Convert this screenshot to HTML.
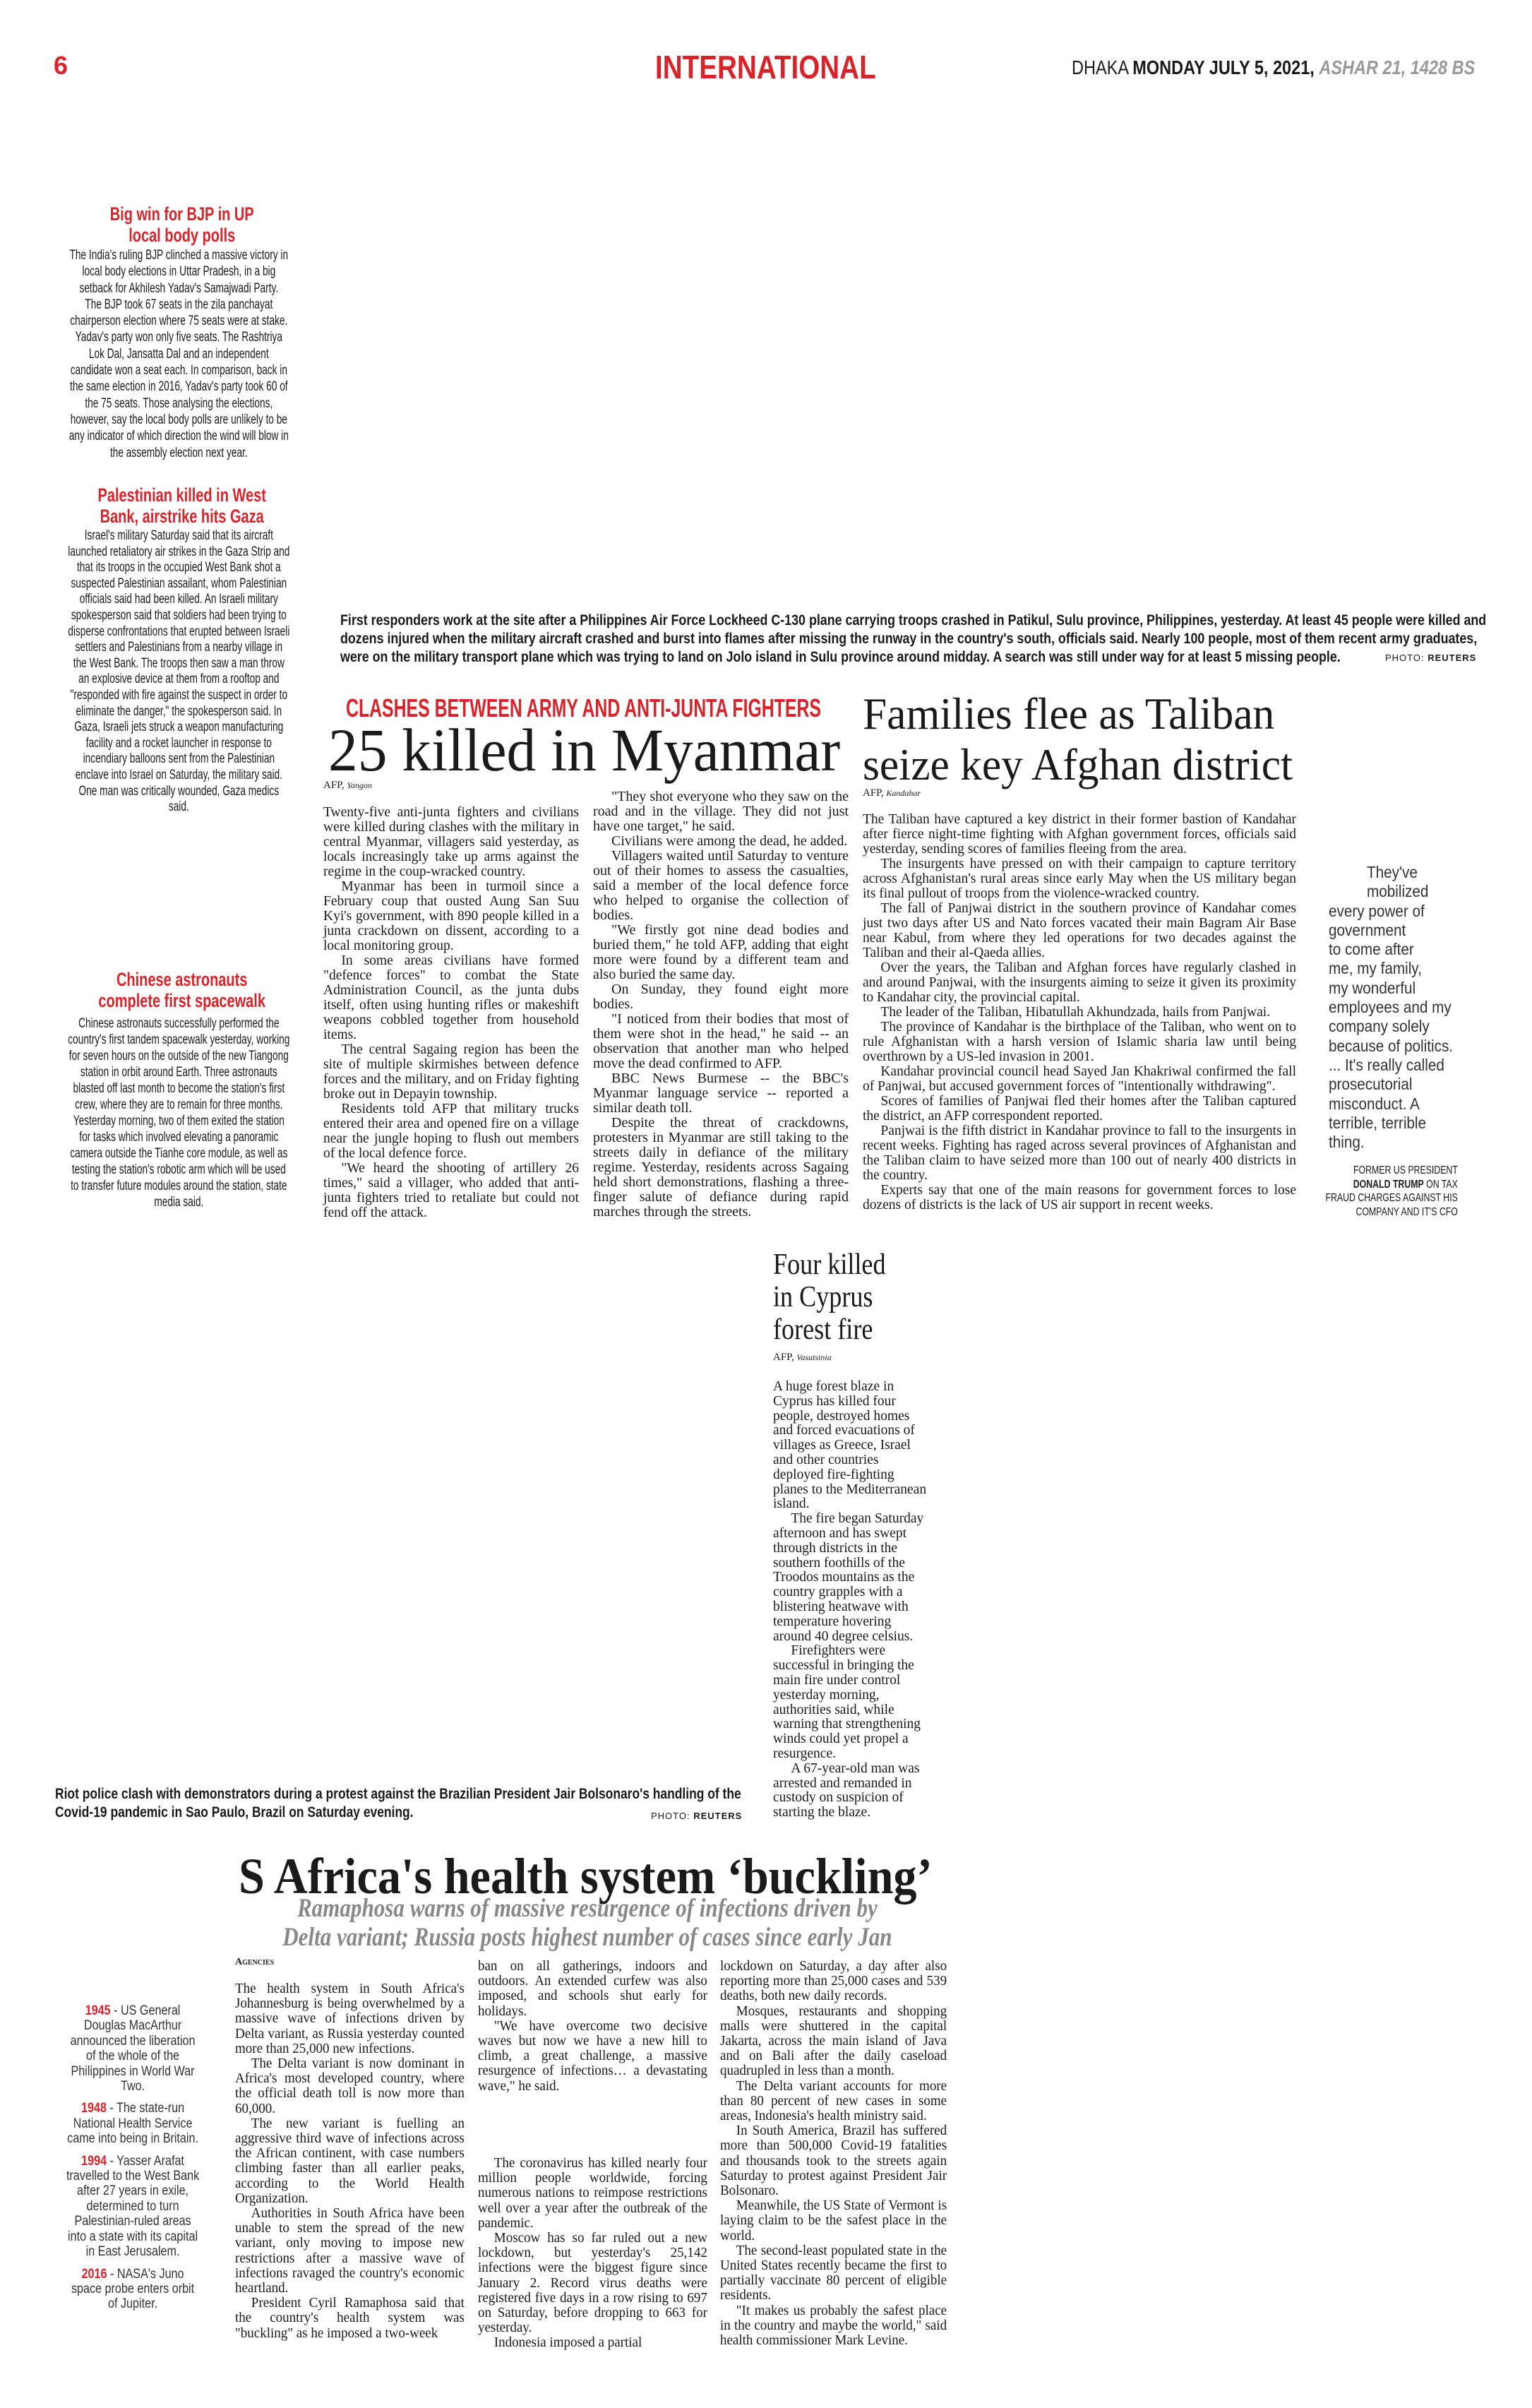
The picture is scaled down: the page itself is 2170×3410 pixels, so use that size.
<!DOCTYPE html>
<html><head><meta charset="utf-8">
<style>
html,body{margin:0;padding:0;background:#fff}
body{width:2170px;height:3410px;position:relative;overflow:hidden;color:#1a1a1a}
.a{position:absolute}
.s{transform-origin:0 0}
.sn{font-family:"Liberation Sans",sans-serif}
.sf{font-family:"Liberation Serif",serif}
.red{color:#d8232a}
.side{font-family:"Liberation Sans",sans-serif;font-size:19px;line-height:22px;text-align:center;transform:scaleX(.72);transform-origin:0 0;width:437px}
.sideh{font-family:"Liberation Sans",sans-serif;font-weight:bold;color:#d8232a;font-size:27px;line-height:30px;text-align:center;transform:scaleX(.74);transform-origin:0 0;width:437px}
.body{font-family:"Liberation Serif",serif;font-size:19.5px;line-height:21px;text-align:justify;transform-origin:0 0}
.body p{margin:0;text-indent:1.3em}
.body p.n{text-indent:0}
.sa{font-family:"Liberation Serif",serif;font-size:20px;line-height:21.2px;text-align:justify;transform:scaleX(.95);transform-origin:0 0}
.sa p{margin:0;text-indent:1.2em}
.sa p.n{text-indent:0}
.cap{font-family:"Liberation Sans",sans-serif;font-weight:bold;font-size:21px;line-height:26px;transform:scaleX(.85);transform-origin:0 0}
.cred{font-family:"Liberation Sans",sans-serif;font-size:13px;letter-spacing:1px}
.dt{font-family:"Liberation Sans",sans-serif;font-size:19px;line-height:21.4px;text-align:center;color:#333;transform:scaleX(.85);transform-origin:0 0;width:226px}
.dt b{color:#d8232a}
.dt p{margin:0 0 10px}
</style></head><body>

<div class="a sn red" style="left:76px;top:72px;font-size:36px;font-weight:bold">6</div>
<div class="a sn red s" style="left:928px;top:68px;font-size:46px;font-weight:bold;transform:scaleX(.84);white-space:nowrap">INTERNATIONAL</div>
<div class="a sn s" style="left:1518px;top:80px;font-size:28px;white-space:nowrap;transform:scaleX(.84)">DHAKA <b>MONDAY JULY 5, 2021,</b> <b style="color:#999;font-style:italic">ASHAR 21, 1428 BS</b></div>

<!-- left sidebar -->
<div class="a sideh" style="left:96px;top:288px">Big win for BJP in UP<br>local body polls</div>
<div class="a side" style="left:96px;top:350px;line-height:23.3px">The India's ruling BJP clinched a massive victory in local body elections in Uttar Pradesh, in a big setback for Akhilesh Yadav's Samajwadi Party.<br>The BJP took 67 seats in the zila panchayat chairperson election where 75 seats were at stake. Yadav's party won only five seats. The Rashtriya Lok Dal, Jansatta Dal and an independent candidate won a seat each. In comparison, back in the same election in 2016, Yadav's party took 60 of the 75 seats. Those analysing the elections, however, say the local body polls are unlikely to be any indicator of which direction the wind will blow in the assembly election next year.</div>

<div class="a sideh" style="left:96px;top:686px">Palestinian killed in West<br>Bank, airstrike hits Gaza</div>
<div class="a side" style="left:96px;top:748px;line-height:22.6px">Israel's military Saturday said that its aircraft launched retaliatory air strikes in the Gaza Strip and that its troops in the occupied West Bank shot a suspected Palestinian assailant, whom Palestinian officials said had been killed. An Israeli military spokesperson said that soldiers had been trying to disperse confrontations that erupted between Israeli settlers and Palestinians from a nearby village in the West Bank. The troops then saw a man throw an explosive device at them from a rooftop and "responded with fire against the suspect in order to eliminate the danger," the spokesperson said. In Gaza, Israeli jets struck a weapon manufacturing facility and a rocket launcher in response to incendiary balloons sent from the Palestinian enclave into Israel on Saturday, the military said. One man was critically wounded, Gaza medics said.</div>

<div class="a sideh" style="left:96px;top:1372px">Chinese astronauts<br>complete first spacewalk</div>
<div class="a side" style="left:96px;top:1438px;line-height:23px">Chinese astronauts successfully performed the country's first tandem spacewalk yesterday, working for seven hours on the outside of the new Tiangong station in orbit around Earth. Three astronauts blasted off last month to become the station's first crew, where they are to remain for three months. Yesterday morning, two of them exited the station for tasks which involved elevating a panoramic camera outside the Tianhe core module, as well as testing the station's robotic arm which will be used to transfer future modules around the station, state media said.</div>

<!-- caption 1 -->
<div class="a cap" style="left:482px;top:866px;width:1915px">First responders work at the site after a Philippines Air Force Lockheed C-130 plane carrying troops crashed in Patikul, Sulu province, Philippines, yesterday. At least 45 people were killed and dozens injured when the military aircraft crashed and burst into flames after missing the runway in the country's south, officials said. Nearly 100 people, most of them recent army graduates, were on the military transport plane which was trying to land on Jolo island in Sulu province around midday. A search was still under way for at least 5 missing people.</div>
<div class="a cred" style="left:1962px;top:924px">PHOTO: <b>REUTERS</b></div>

<!-- Myanmar -->
<div class="a sn red s" style="left:490px;top:982px;font-size:36px;font-weight:bold;white-space:nowrap;transform:scaleX(.69)">CLASHES BETWEEN ARMY AND ANTI-JUNTA FIGHTERS</div>
<div class="a sf s" style="left:465px;top:1012px;font-size:86px;white-space:nowrap;transform:scaleX(.97)">25 killed in Myanmar</div>
<div class="a sf" style="left:458px;top:1104px;font-size:15px">AFP, <i style="font-size:12px">Yangon</i></div>
<div class="a body" style="left:458px;top:1140px;width:362px">
<p class="n">Twenty-five anti-junta fighters and civilians were killed during clashes with the military in central Myanmar, villagers said yesterday, as locals increasingly take up arms against the regime in the coup-wracked country.</p>
<p>Myanmar has been in turmoil since a February coup that ousted Aung San Suu Kyi's government, with 890 people killed in a junta crackdown on dissent, according to a local monitoring group.</p>
<p>In some areas civilians have formed "defence forces" to combat the State Administration Council, as the junta dubs itself, often using hunting rifles or makeshift weapons cobbled together from household items.</p>
<p>The central Sagaing region has been the site of multiple skirmishes between defence forces and the military, and on Friday fighting broke out in Depayin township.</p>
<p>Residents told AFP that military trucks entered their area and opened fire on a village near the jungle hoping to flush out members of the local defence force.</p>
<p>"We heard the shooting of artillery 26 times," said a villager, who added that anti-junta fighters tried to retaliate but could not fend off the attack.</p>
</div>
<div class="a body" style="left:840px;top:1118px;width:362px;font-size:20px;line-height:21px">
<p>"They shot everyone who they saw on the road and in the village. They did not just have one target," he said.</p>
<p>Civilians were among the dead, he added.</p>
<p>Villagers waited until Saturday to venture out of their homes to assess the casualties, said a member of the local defence force who helped to organise the collection of bodies.</p>
<p>"We firstly got nine dead bodies and buried them," he told AFP, adding that eight more were found by a different team and also buried the same day.</p>
<p>On Sunday, they found eight more bodies.</p>
<p>"I noticed from their bodies that most of them were shot in the head," he said -- an observation that another man who helped move the dead confirmed to AFP.</p>
<p>BBC News Burmese -- the BBC's Myanmar language service -- reported a similar death toll.</p>
<p>Despite the threat of crackdowns, protesters in Myanmar are still taking to the streets daily in defiance of the military regime. Yesterday, residents across Sagaing held short demonstrations, flashing a three-finger salute of defiance during rapid marches through the streets.</p>
</div>

<!-- Afghan -->
<div class="a sf s" style="left:1222px;top:975px;font-size:64px;line-height:72px;white-space:nowrap;transform:scaleX(.96)">Families flee as Taliban<br>seize key Afghan district</div>
<div class="a sf" style="left:1222px;top:1115px;font-size:15px">AFP, <i style="font-size:12px">Kandahar</i></div>
<div class="a body" style="left:1222px;top:1150px;width:614px">
<p class="n">The Taliban have captured a key district in their former bastion of Kandahar after fierce night-time fighting with Afghan government forces, officials said yesterday, sending scores of families fleeing from the area.</p>
<p>The insurgents have pressed on with their campaign to capture territory across Afghanistan's rural areas since early May when the US military began its final pullout of troops from the violence-wracked country.</p>
<p>The fall of Panjwai district in the southern province of Kandahar comes just two days after US and Nato forces vacated their main Bagram Air Base near Kabul, from where they led operations for two decades against the Taliban and their al-Qaeda allies.</p>
<p>Over the years, the Taliban and Afghan forces have regularly clashed in and around Panjwai, with the insurgents aiming to seize it given its proximity to Kandahar city, the provincial capital.</p>
<p>The leader of the Taliban, Hibatullah Akhundzada, hails from Panjwai.</p>
<p>The province of Kandahar is the birthplace of the Taliban, who went on to rule Afghanistan with a harsh version of Islamic sharia law until being overthrown by a US-led invasion in 2001.</p>
<p>Kandahar provincial council head Sayed Jan Khakriwal confirmed the fall of Panjwai, but accused government forces of "intentionally withdrawing".</p>
<p>Scores of families of Panjwai fled their homes after the Taliban captured the district, an AFP correspondent reported.</p>
<p>Panjwai is the fifth district in Kandahar province to fall to the insurgents in recent weeks. Fighting has raged across several provinces of Afghanistan and the Taliban claim to have seized more than 100 out of nearly 400 districts in the country.</p>
<p>Experts say that one of the main reasons for government forces to lose dozens of districts is the lack of US air support in recent weeks.</p>
</div>

<!-- quote -->
<div class="a sn s" style="left:1882px;top:1222px;font-size:23px;line-height:27.3px;color:#333;width:230px;transform:scaleX(.9)"><div style="padding-left:60px">They've<br>mobilized</div>every power of<br>government<br>to come after<br>me, my family,<br>my wonderful<br>employees and my<br>company solely<br>because of politics.<br>... It's really called<br>prosecutorial<br>misconduct. A<br>terrible, terrible<br>thing.</div>
<div class="a sn s" style="left:1840px;top:1648px;font-size:16px;line-height:19.5px;text-align:right;width:292px;transform:scaleX(.77)">FORMER US PRESIDENT<br><b>DONALD TRUMP</b> ON TAX<br>FRAUD CHARGES AGAINST HIS<br>COMPANY AND IT'S CFO</div>

<!-- Cyprus -->
<div class="a sf s" style="left:1095px;top:1768px;font-size:42px;line-height:46px;white-space:nowrap;transform:scaleX(.86)">Four killed<br>in Cyprus<br>forest fire</div>
<div class="a sf" style="left:1095px;top:1914px;font-size:15px">AFP, <i style="font-size:12px">Vasutsinia</i></div>
<div class="a body" style="left:1095px;top:1954px;width:222px;text-align:left;font-size:19.5px;line-height:20.8px">
<p class="n">A huge forest blaze in Cyprus has killed four people, destroyed homes and forced evacuations of villages as Greece, Israel and other countries deployed fire-fighting planes to the Mediterranean island.</p>
<p>The fire began Saturday afternoon and has swept through districts in the southern foothills of the Troodos mountains as the country grapples with a blistering heatwave with temperature hovering around 40 degree celsius.</p>
<p>Firefighters were successful in bringing the main fire under control yesterday morning, authorities said, while warning that strengthening winds could yet propel a resurgence.</p>
<p>A 67-year-old man was arrested and remanded in custody on suspicion of starting the blaze.</p>
</div>

<!-- caption 2 -->
<div class="a cap" style="left:78px;top:2528px;width:1180px;transform:scaleX(.83)">Riot police clash with demonstrators during a protest against the Brazilian President Jair Bolsonaro's handling of the Covid-19 pandemic in Sao Paulo, Brazil on Saturday evening.</div>
<div class="a cred" style="left:922px;top:2564px">PHOTO: <b>REUTERS</b></div>

<!-- S Africa -->
<div class="a sf s" style="left:338px;top:2616px;font-size:72px;font-weight:bold;white-space:nowrap;transform:scaleX(.92)">S Africa's health system ‘buckling’</div>
<div class="a sf s" style="left:330px;top:2682px;width:1195px;font-size:37px;line-height:41px;font-style:italic;font-weight:bold;color:#888;text-align:center;transform:scaleX(.84)">Ramaphosa warns of massive resurgence of infections driven by<br>Delta variant; Russia posts highest number of cases since early Jan</div>
<div class="a sf" style="left:333px;top:2771px;font-size:14px;font-variant:small-caps;font-weight:bold">Agencies</div>
<div class="a sa" style="left:333px;top:2806px;width:342px">
<p class="n">The health system in South Africa's Johannesburg is being overwhelmed by a massive wave of infections driven by Delta variant, as Russia yesterday counted more than 25,000 new infections.</p>
<p>The Delta variant is now dominant in Africa's most developed country, where the official death toll is now more than 60,000.</p>
<p>The new variant is fuelling an aggressive third wave of infections across the African continent, with case numbers climbing faster than all earlier peaks, according to the World Health Organization.</p>
<p>Authorities in South Africa have been unable to stem the spread of the new variant, only moving to impose new restrictions after a massive wave of infections ravaged the country's economic heartland.</p>
<p>President Cyril Ramaphosa said that the country's health system was "buckling" as he imposed a two-week</p>
</div>
<div class="a sa" style="left:677px;top:2774px;width:342px">
<p class="n">ban on all gatherings, indoors and outdoors. An extended curfew was also imposed, and schools shut early for holidays.</p>
<p>"We have overcome two decisive waves but now we have a new hill to climb, a great challenge, a massive resurgence of infections… a devastating wave," he said.</p>
</div>
<div class="a sa" style="left:677px;top:3053px;width:342px">
<p>The coronavirus has killed nearly four million people worldwide, forcing numerous nations to reimpose restrictions well over a year after the outbreak of the pandemic.</p>
<p>Moscow has so far ruled out a new lockdown, but yesterday's 25,142 infections were the biggest figure since January 2. Record virus deaths were registered five days in a row rising to 697 on Saturday, before dropping to 663 for yesterday.</p>
<p>Indonesia imposed a partial</p>
</div>
<div class="a sa" style="left:1020px;top:2774px;width:338px">
<p class="n">lockdown on Saturday, a day after also reporting more than 25,000 cases and 539 deaths, both new daily records.</p>
<p>Mosques, restaurants and shopping malls were shuttered in the capital Jakarta, across the main island of Java and on Bali after the daily caseload quadrupled in less than a month.</p>
<p>The Delta variant accounts for more than 80 percent of new cases in some areas, Indonesia's health ministry said.</p>
<p>In South America, Brazil has suffered more than 500,000 Covid-19 fatalities and thousands took to the streets again Saturday to protest against President Jair Bolsonaro.</p>
<p>Meanwhile, the US State of Vermont is laying claim to be the safest place in the world.</p>
<p>The second-least populated state in the United States recently became the first to partially vaccinate 80 percent of eligible residents.</p>
<p>"It makes us probably the safest place in the country and maybe the world," said health commissioner Mark Levine.</p>
</div>

<div class="a dt" style="left:92px;top:2837px">
<p><b>1945</b> - US General Douglas MacArthur announced the liberation of the whole of the Philippines in World War Two.</p>
<p><b>1948</b> - The state-run National Health Service came into being in Britain.</p>
<p><b>1994</b> - Yasser Arafat travelled to the West Bank after 27 years in exile, determined to turn Palestinian-ruled areas into a state with its capital in East Jerusalem.</p>
<p><b>2016</b> - NASA's Juno space probe enters orbit of Jupiter.</p>
</div>
</body></html>
